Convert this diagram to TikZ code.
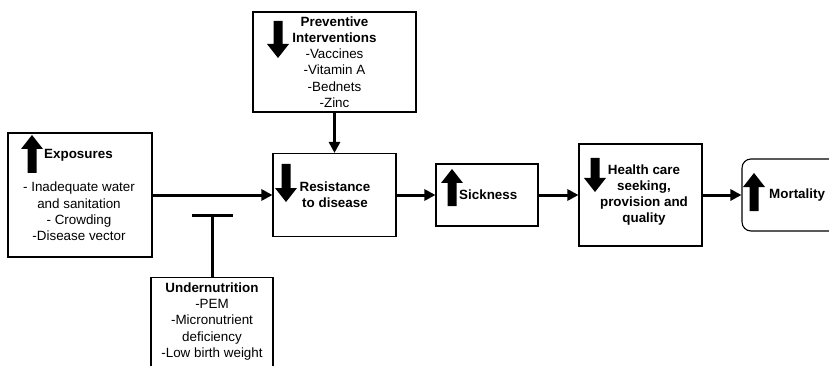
\documentclass[tikz,border=0pt]{standalone}
\usepackage{fontspec}
\setmainfont{Liberation Sans}
\usetikzlibrary{arrows.meta}
\newcommand\fatup[3]{\fill (#1-11,#2+14) -- (#1,#2) -- (#1+11,#2+14) -- (#1+4.5,#2+14) -- (#1+4.5,#3) -- (#1-4.5,#3) -- (#1-4.5,#2+14) -- cycle;}
\newcommand\fatdown[3]{\fill (#1-11,#3-14) -- (#1,#3) -- (#1+11,#3-14) -- (#1+4.5,#3-14) -- (#1+4.5,#2) -- (#1-4.5,#2) -- (#1-4.5,#3-14) -- cycle;}
\tikzset{
  box/.style={draw, line width=1.1pt, inner sep=0pt, minimum width=#1},
  conn/.style={line width=3pt, -{Triangle[length=11pt,width=11pt]}},
  txt/.style={align=center, inner sep=0pt, font=\fontsize{13.4}{16.2}\selectfont},
}
\begin{document}
\begin{tikzpicture}[x=1pt,y=-1pt]
\useasboundingbox (0,0) rectangle (829,366);
\clip (0,0) rectangle (829,366);
% boxes
\node[box=144pt, minimum height=124pt] (expo) at (80,195) {};
\node[box=163pt, minimum height=100pt] (prev) at (334.5,62) {};
\node[box=123pt, minimum height=83pt] (res) at (334.5,195) {};
\node[box=102pt, minimum height=62pt] (sick) at (487,195) {};
\node[box=123pt, minimum height=102pt] (health) at (640.5,195) {};
\node[box=108pt, minimum height=72pt, rounded corners=9pt] (mort) at (796,195) {};
\node[box=122pt, minimum height=110pt, anchor=north] (under) at (212,277) {};
% texts
\node[txt, anchor=west] (t1) at (44,155) {\textbf{Exposures}};
\node[txt] (t2) at (79,211.5) {- Inadequate water\\and sanitation\\- Crowding\\-Disease vector};
\node[txt] (t3) at (334.5,62) {\textbf{Preventive}\\\textbf{Interventions}\\-Vaccines\\-Vitamin A\\-Bednets\\-Zinc};
\node[txt] (t4) at (335,195) {\textbf{Resistance}\\\textbf{to disease}};
\node[txt, anchor=west] (t5) at (459,195) {\textbf{Sickness}};
\node[txt] (t6) at (644,195) {\textbf{Health care}\\\textbf{seeking,}\\\textbf{provision and}\\\textbf{quality}};
\node[txt, anchor=west] (t7) at (769,195) {\textbf{Mortality}};
\node[txt] (t8) at (212,321.5) {\textbf{Undernutrition}\\-PEM\\-Micronutrient\\deficiency\\-Low birth weight};
% fat arrows
\fatup{32}{135}{173}
\fatdown{278}{21}{58}
\fatdown{286}{164}{202}
\fatup{452}{169}{206}
\fatdown{595}{158}{192}
\fatup{754}{173}{211}
% connectors
\draw[conn] (expo) -- (res);
\draw[conn] (prev) -- (res);
\draw[conn] (res) -- (sick);
\draw[conn] (sick) -- (health);
\draw[conn] (health) -- (mort);
\coordinate (bar) at (212,215);
\draw[line width=3pt] (under.north) -- (bar);
\draw[line width=3pt] (192,215) -- (233,215);
\end{tikzpicture}
\end{document}
